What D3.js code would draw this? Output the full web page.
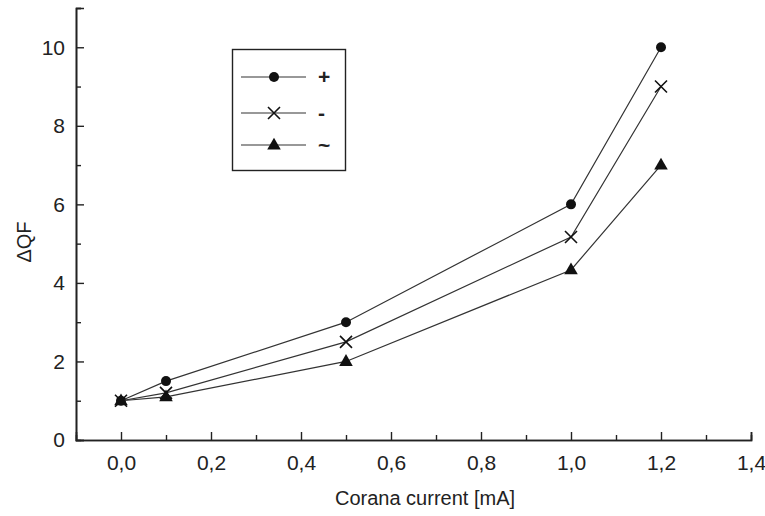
<!DOCTYPE html>
<html>
<head>
<meta charset="utf-8">
<script src="https://cdn.jsdelivr.net/npm/d3@7"></script>
<style>
    body { margin: 0; background: #fff; }
    #graphDiv text { font-family: "Liberation Sans", Arial, sans-serif; fill: #222; }
</style>
</head>
<body>
<div id="graphDiv"></div>
<script>
// data //
var current = [0.0, 0.1, 0.5, 1.0, 1.2];
var plusQF = [1.0, 1.5, 3.0, 6.0, 10.0];
var minusQF = [1.0, 1.2, 2.5, 5.17, 9.0];
var acQF = [1.0, 1.1, 2.0, 4.33, 7.0];
var seriesNames = ["+", "-", "~"];
var seriesSymbols = ["circle", "cross", "triangle"];
var xTicks = [0.0, 0.2, 0.4, 0.6, 0.8, 1.0, 1.2, 1.4];
var yTicks = [0, 2, 4, 6, 8, 10];

(function () {
    var W = 765, H = 516;
    var left = 76, right = 751, top = 8, bottom = 440;

    var svg = d3.select("#graphDiv")
        .append("svg")
        .attr("width", W)
        .attr("height", H);

    var xScale = d3.scaleLinear().domain([-0.1, 1.4]).range([left, right]);
    var yScale = d3.scaleLinear().domain([0, 11]).range([bottom, top]);

    var fmt = function (d) {
        return d3.format(".1f")(d).replace(".", ",");
    };

    // major ticks point inward, with labels
    var xAxis = d3.axisBottom(xScale).tickValues(xTicks).tickSize(-8).tickPadding(15).tickFormat(fmt);
    var yAxis = d3.axisLeft(yScale).tickValues(yTicks).tickSize(-8).tickPadding(11).tickFormat(d3.format("d"));
    // minor ticks (no labels)
    var xMinor = d3.axisBottom(xScale).tickValues(d3.range(1, 14, 2).map(function (i) { return i / 10; }))
        .tickSize(-5).tickFormat("");
    var yMinor = d3.axisLeft(yScale).tickValues([1, 3, 5, 7, 9, 11]).tickSize(-5).tickFormat("");

    function styleAxis(g) {
        g.select(".domain").attr("stroke", "#222").attr("stroke-width", 1.6);
        g.selectAll(".tick line").attr("stroke", "#222").attr("stroke-width", 1.4);
        g.selectAll(".tick text").attr("font-size", 21).attr("fill", "#222")
            .attr("font-family", "Liberation Sans, Arial, sans-serif");
    }

    svg.append("g").attr("transform", "translate(0," + bottom + ")").call(xAxis).call(styleAxis);
    svg.append("g").attr("transform", "translate(0," + bottom + ")").call(xMinor).call(styleAxis);
    svg.append("g").attr("transform", "translate(" + left + ",0)").call(yAxis).call(styleAxis);
    svg.append("g").attr("transform", "translate(" + left + ",0)").call(yMinor).call(styleAxis);

    // axis labels
    svg.append("text")
        .attr("x", 425)
        .attr("y", 505)
        .attr("text-anchor", "middle")
        .attr("font-size", 20)
        .text("Corana current [mA]");
    svg.append("text")
        .attr("transform", "translate(31,242) rotate(-90)")
        .attr("text-anchor", "middle")
        .attr("font-size", 20)
        .text("ΔQF");

    var series = [plusQF, minusQF, acQF];

    var lineFunc = d3.line()
        .x(function (d) { return xScale(d.x); })
        .y(function (d) { return yScale(d.y); });

    function drawSymbol(g, type, x, y) {
        if (type === "circle") {
            g.append("circle").attr("cx", x).attr("cy", y).attr("r", 5).attr("fill", "#111");
        } else if (type === "triangle") {
            g.append("path")
                .attr("d", d3.symbol().type(d3.symbolTriangle).size(80)())
                .attr("transform", "translate(" + x + "," + (y + 0.5) + ")")
                .attr("fill", "#111");
        } else {
            var s = 6;
            g.append("path")
                .attr("d", "M" + (x - s) + "," + (y - s) + "L" + (x + s) + "," + (y + s) +
                    "M" + (x - s) + "," + (y + s) + "L" + (x + s) + "," + (y - s))
                .attr("stroke", "#111").attr("stroke-width", 1.6).attr("fill", "none");
        }
    }

    var lines = svg.append("g").attr("class", "lines");
    series.forEach(function (vals, i) {
        var pts = current.map(function (c, j) { return {x: c, y: vals[j]}; });
        lines.append("path")
            .attr("d", lineFunc(pts))
            .attr("fill", "none")
            .attr("stroke", "#333")
            .attr("stroke-width", 1.2);
        pts.forEach(function (p) {
            drawSymbol(lines, seriesSymbols[i], xScale(p.x), yScale(p.y));
        });
    });

    // legend box
    var legend = svg.append("g").attr("class", "legend");
    legend.append("rect")
        .attr("x", 232.5).attr("y", 49.5)
        .attr("width", 113).attr("height", 121)
        .attr("fill", "none").attr("stroke", "#222").attr("stroke-width", 1.4);
    var rowY = [77, 113, 145];
    seriesNames.forEach(function (name, i) {
        legend.append("line")
            .attr("x1", 241).attr("x2", 306)
            .attr("y1", rowY[i]).attr("y2", rowY[i])
            .attr("stroke", "#333").attr("stroke-width", 1.2);
        drawSymbol(legend, seriesSymbols[i], 274, rowY[i]);
        legend.append("text")
            .attr("x", 318).attr("y", rowY[i] + 7)
            .attr("font-size", 21)
            .attr("font-weight", "bold")
            .text(name);
    });
})();
</script>
</body>
</html>
